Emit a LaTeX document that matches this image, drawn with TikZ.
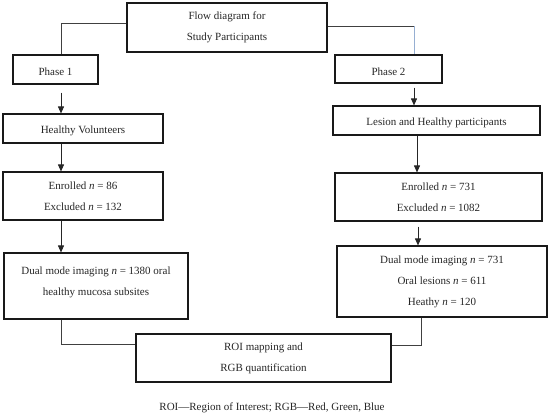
\documentclass[tikz,border=0pt]{standalone}
\usepackage{fontspec}
\setmainfont{Liberation Serif}
\usetikzlibrary{positioning,arrows.meta,calc}
\definecolor{paleblue}{RGB}{150,175,210}

\begin{document}
\begin{tikzpicture}[
    x=1pt, y=-1pt,
    box/.style={draw=black!90, line width=1.1pt, align=center, inner sep=2pt, text=black!85, font=\fontsize{11}{21}\selectfont},
    lowered/.style={execute at begin node={\rule{0pt}{13pt}}},
    raised/.style={execute at end node={\rule[-10pt]{0pt}{0pt}}},
    arrow/.style={-{Triangle[length=7pt,width=6pt]}, line width=0.8pt, draw=black!85},
    link/.style={line width=0.8pt, draw=black!75},
    note/.style={text=black!85, font=\fontsize{11}{13}\selectfont},
]
\useasboundingbox (0,0) rectangle (550,416);

% Title and the two phases
\node[box, lowered, minimum width=200pt, minimum height=49pt] (title) at (227,27.5) {Flow diagram for\\Study Participants};
\node[box, lowered, minimum width=85pt, minimum height=29pt] (phase1) at (55.5,69.5) {Phase 1};
\node[box, lowered, minimum width=107pt, minimum height=28pt] (phase2) at (388.5,69) {Phase 2};

% Phase 1 column
\node[box, lowered, minimum width=160pt, minimum height=29pt] (healthy) at (83,128.5) {Healthy Volunteers};
\node[box, lowered, minimum width=160pt, minimum height=48pt] (enrA) at (83,196) {Enrolled \textit{n} = 86\\Excluded \textit{n} = 132};
\node[box, raised, minimum width=184pt, minimum height=66pt] (dualA) at (96,286) {Dual mode imaging \textit{n} = 1380 oral\\healthy mucosa subsites};

% Phase 2 column
\node[box, lowered, minimum width=207pt, minimum height=29pt] (lesion) at (436.5,120.5) {Lesion and Healthy participants};
\node[box, lowered, minimum width=207pt, minimum height=48pt] (enrB) at (438.5,197) {Enrolled \textit{n} = 731\\Excluded \textit{n} = 1082};
\node[box, lowered, minimum width=210pt, minimum height=71pt] (dualB) at (442,281.5) {Dual mode imaging \textit{n} = 731\\Oral lesions \textit{n} = 611\\Heathy \textit{n} = 120};

% Joint step
\node[box, lowered, minimum width=255pt, minimum height=48pt] (roi) at (263.5,358) {ROI mapping and\\RGB quantification};
\node[note] (legend) at (272,408) {ROI---Region of Interest; RGB---Red, Green, Blue};

% Branches from the title
\coordinate (t1) at ([yshift=4.5pt]title.west);
\coordinate (t2) at ([yshift=1.5pt]title.east);
\coordinate (p2) at ([xshift=25.5pt]phase2.north);
\draw[link] (t1) -| ([xshift=5.5pt]phase1.north);
\draw[link] (t2) -- (t2 -| p2);
\draw[link, draw=paleblue] (t2 -| p2) -- (p2);

% Arrows
\draw[arrow] ([xshift=5.5pt,yshift=-8pt]phase1.south) -- ([xshift=5.5pt]phase1.south |- healthy.north);
\draw[arrow] ([xshift=-22pt]healthy.south) -- ([xshift=-22pt]healthy.south |- enrA.north);
\draw[arrow] ([xshift=-22pt]enrA.south) -- ([xshift=-22pt]enrA.south |- dualA.north);
\draw[arrow] ([xshift=25.5pt,yshift=-4pt]phase2.south) -- ([xshift=25.5pt]phase2.south |- lesion.north);
\draw[arrow] ([xshift=-19.5pt]lesion.south) -- ([xshift=-19.5pt]lesion.south |- enrB.north);
\draw[arrow] ([xshift=-20.5pt,yshift=-5pt]enrB.south) -- ([xshift=-20.5pt]enrB.south |- dualB.north);

% Merge into ROI step
\draw[link] ([xshift=-35pt]dualA.south) |- ([yshift=14pt]roi.west);
\draw[link] ([xshift=-21pt]dualB.south) |- ([yshift=13pt]roi.east);

\end{tikzpicture}
\end{document}
